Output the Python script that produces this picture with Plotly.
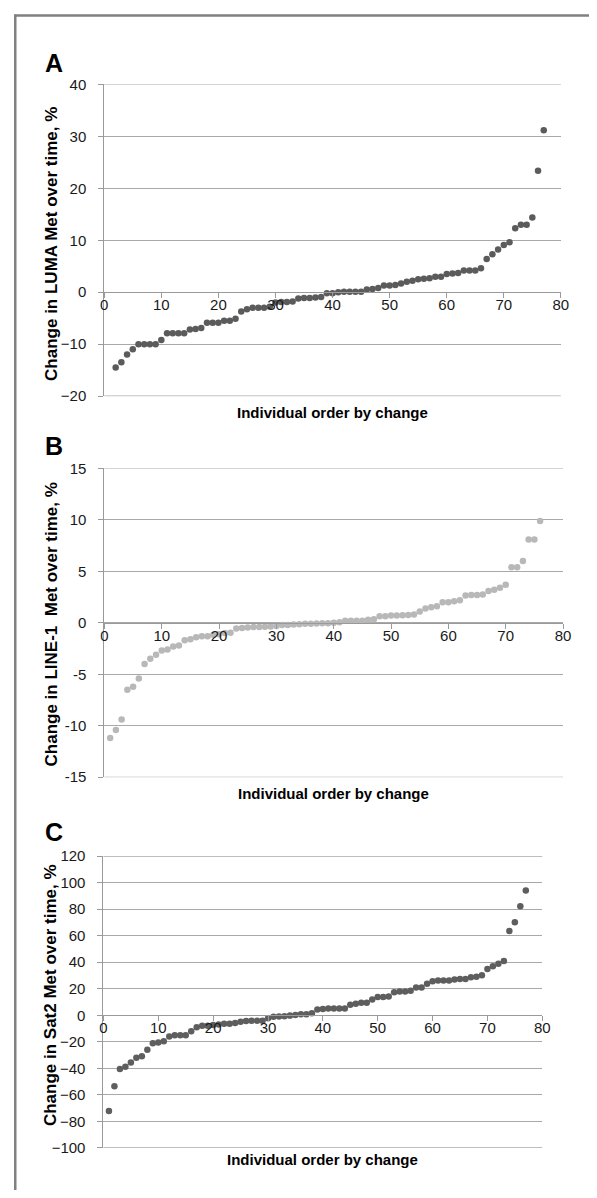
import plotly.graph_objects as go

W, H = 597, 1198

# ---------------- data ----------------
luma_x = list(range(2, 78))
luma_y = [-14.5, -13.5, -12.0, -11.0, -10.0, -10.0, -10.0, -10.0, -9.2, -7.9,
          -7.9, -7.9, -7.9, -7.2, -7.1, -6.9, -5.9, -5.9, -5.9, -5.5,
          -5.5, -5.1, -3.7, -3.3, -3.0, -3.0, -3.0, -2.8, -2.0, -1.9,
          -1.9, -1.8, -1.2, -1.1, -1.1, -1.0, -0.9, -0.2, -0.2, 0.0,
          0.1, 0.1, 0.1, 0.1, 0.5, 0.6, 0.8, 1.3, 1.3, 1.4,
          1.7, 2.0, 2.2, 2.5, 2.6, 2.7, 3.0, 3.0, 3.5, 3.6,
          3.7, 4.2, 4.2, 4.2, 4.6, 6.4, 7.3, 8.2, 9.1, 9.6,
          12.3, 13.0, 13.0, 14.4, 23.4, 31.2]

line1_x = list(range(1, 77))
line1_y = [-11.2, -10.4, -9.4, -6.5, -6.2, -5.4, -4.0, -3.5, -3.1, -2.7,
           -2.6, -2.3, -2.2, -1.7, -1.6, -1.4, -1.3, -1.3, -1.15, -1.1,
           -1.0, -0.96, -0.54, -0.5, -0.45, -0.4, -0.4, -0.38, -0.35, -0.32,
           -0.22, -0.22, -0.16, -0.13, -0.1, -0.1, -0.06, -0.03, -0.03, 0.0,
           0.06, 0.2, 0.2, 0.2, 0.2, 0.3, 0.35, 0.64, 0.64, 0.7,
           0.7, 0.73, 0.77, 0.8, 1.1, 1.4, 1.5, 1.6, 2.0, 2.0,
           2.1, 2.2, 2.65, 2.7, 2.7, 2.75, 3.1, 3.2, 3.4, 3.7,
           5.4, 5.4, 6.0, 8.1, 8.1, 9.9]

sat2_x = list(range(1, 78))
sat2_y = [-72.1, -53.6, -40.5, -38.8, -35.6, -32.1, -30.9, -25.9, -21.0, -20.5,
          -19.5, -16.0, -15.1, -15.1, -15.1, -12.1, -9.1, -7.9, -7.9, -7.4,
          -6.9, -6.4, -6.4, -5.9, -4.9, -4.4, -4.2, -4.2, -4.2, -2.2,
          -1.2, -1.0, -0.7, -0.25, 0.25, 0.7, 0.7, 1.5, 4.4, 4.7,
          5.2, 5.2, 5.2, 5.2, 7.9, 8.6, 9.4, 9.4, 11.9, 13.8,
          13.8, 14.1, 17.3, 18.0, 18.0, 18.5, 21.0, 21.0, 23.7, 25.7,
          26.2, 26.2, 26.2, 26.9, 27.4, 27.4, 28.6, 29.1, 30.1, 34.8,
          37.0, 38.8, 41.0, 63.5, 70.1, 82.2, 94.1]

x_ticks = [0, 10, 20, 30, 40, 50, 60, 70, 80]
a_ticks = [-20, -10, 0, 10, 20, 30, 40]
a_text = ["\u221220", "\u221210", "0", "10", "20", "30", "40"]
b_ticks = [-15, -10, -5, 0, 5, 10, 15]
b_text = ["-15", "-10", "-5", "0", "5", "10", "15"]
c_ticks = [-100, -80, -60, -40, -20, 0, 20, 40, 60, 80, 100, 120]
c_text = ["\u2212100", "\u221280", "\u221260", "\u221240", "\u221220", "0",
          "20", "40", "60", "80", "100", "120"]

panel_letters = ["A", "B", "C"]
y_titles = ["Change in LUMA Met over time, %",
            "Change in LINE-1  Met over time, %",
            "Change in Sat2 Met over time, %"]
x_title = "Individual order by change"

# ---------------- layout helpers ----------------
def fx(px):
    return px / W

def fy(py):
    return 1 - py / H

FONT = "Liberation Sans, Arial, Helvetica, sans-serif"
GRID = "#a9a9a9"
AXIS = "#9a9a9a"
TXT = "#1a1a1a"
FS = 15

panels = [
    dict(x=luma_x, y=luma_y, color="#5b5b5b", xpx=(102.3, 568.3), ypx=(76.5, 392.7),
         rng=(-20, 40), tv=a_ticks, tt=a_text, letter_y=55, xt_y=409, yt_c=238),
    dict(x=line1_x, y=line1_y, color="#b8b8b8", xpx=(102.5, 570.5), ypx=(466.0, 779.3),
         rng=(-15, 15), tv=b_ticks, tt=b_text, letter_y=443, xt_y=796, yt_c=624),
    dict(x=sat2_x, y=sat2_y, color="#5e5e5e", xpx=(101.5, 549.3), ypx=(859.3, 1155.3),
         rng=(-100, 120), tv=c_ticks, tt=c_text, letter_y=835, xt_y=1167, yt_c=1000),
]

fig = go.Figure()
layout = dict(
    width=W, height=H,
    margin=dict(l=0, r=0, t=0, b=0),
    paper_bgcolor="white", plot_bgcolor="white",
    showlegend=False,
    font=dict(family=FONT, color=TXT, size=FS),
)
annotations = []
shapes = []

for i, p in enumerate(panels):
    n = "" if i == 0 else str(i + 1)
    xd = [fx(p["xpx"][0]), fx(p["xpx"][1])]
    yd = [fy(p["ypx"][1]), fy(p["ypx"][0])]
    r0, r1 = p["rng"]
    zero_pos = yd[0] + (0 - r0) / (r1 - r0) * (yd[1] - yd[0])

    fig.add_trace(go.Scatter(
        x=p["x"], y=p["y"], mode="markers",
        marker=dict(size=6.5, color=p["color"]),
        xaxis="x" + n, yaxis="y" + n, cliponaxis=False,
    ))

    layout["xaxis" + n] = dict(
        domain=xd, range=[0, 80], anchor="free", position=zero_pos,
        tickvals=x_ticks, showgrid=False, zeroline=False,
        showline=True, linecolor=AXIS, linewidth=1,
        ticks="outside", ticklen=5, tickcolor=AXIS, tickwidth=1,
        ticklabelstandoff=-6,
        tickfont=dict(size=FS, color=TXT, family=FONT),
    )
    layout["yaxis" + n] = dict(
        domain=yd, range=[r0, r1], anchor="x" + n,
        tickvals=p["tv"], ticktext=p["tt"],
        showgrid=True, gridcolor=GRID, gridwidth=1.2, zeroline=False,
        showline=True, linecolor=AXIS, linewidth=1,
        ticks="outside", ticklen=5, tickcolor=AXIS, tickwidth=1,
        ticklabelstandoff=9,
        tickfont=dict(size=FS, color=TXT, family=FONT),
    )

    # boundary gridlines (top and bottom of each value range)
    for yv in (r0, r1):
        shapes.append(dict(
            type="line", xref="x" + n + " domain", yref="y" + n,
            x0=0, x1=1, y0=yv, y1=yv, layer="below",
            line=dict(color=GRID, width=1.2),
        ))

    annotations.append(dict(
        text="<b>%s</b>" % panel_letters[i], xref="paper", yref="paper",
        x=fx(51), y=fy(p["letter_y"]), xanchor="center", yanchor="middle",
        showarrow=False, font=dict(size=25, color="black", family=FONT),
    ))
    annotations.append(dict(
        text="<b>%s</b>" % y_titles[i], xref="paper", yref="paper",
        x=fx(60), y=fy(p["yt_c"]), textangle=-90,
        xanchor="right", yanchor="middle", showarrow=False,
        font=dict(size=17, color="black", family=FONT),
    ))
    annotations.append(dict(
        text="<b>%s</b>" % x_title, xref="paper", yref="paper",
        x=fx((p["xpx"][0] + p["xpx"][1]) / 2), y=fy(p["xt_y"]),
        xanchor="center", yanchor="middle", showarrow=False,
        font=dict(size=FS, color="black", family=FONT),
    ))

# outer frame (top and left edges visible inside the picture)
shapes.append(dict(type="line", xref="paper", yref="paper",
                   x0=fx(10.5), x1=1, y0=fy(6.5), y1=fy(6.5),
                   line=dict(color="#808080", width=2.5), layer="above"))
shapes.append(dict(type="line", xref="paper", yref="paper",
                   x0=fx(11.5), x1=fx(11.5), y0=fy(5.5), y1=0,
                   line=dict(color="#808080", width=2.5), layer="above"))
layout["annotations"] = annotations
layout["shapes"] = shapes

fig.update_layout(**layout)
fig.write_html(
    "out.html",
    config={"displayModeBar": False},
    post_script="document.body.style.margin='0';document.body.style.padding='0';"
                "document.body.style.overflow='hidden';"
                "document.documentElement.style.overflow='hidden';",
)
